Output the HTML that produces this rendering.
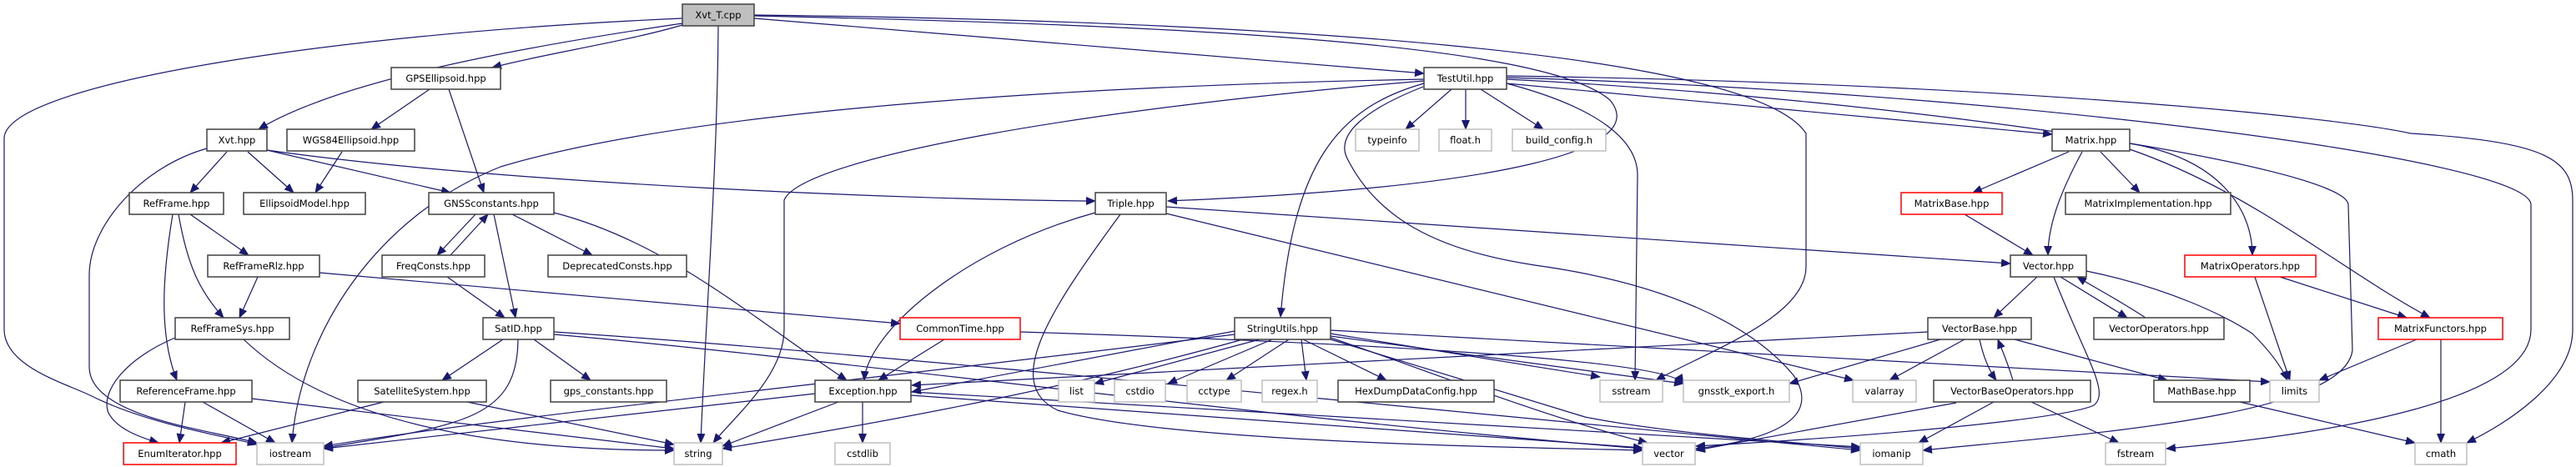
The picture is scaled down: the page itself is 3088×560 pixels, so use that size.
<!DOCTYPE html>
<html><head><meta charset="utf-8"><style>
html,body{margin:0;padding:0;background:#fff;}
svg{display:block;}
text{font-family:"DejaVu Sans","Liberation Sans",sans-serif;font-size:11.5px;fill:#000;}
.n{fill:#fff;stroke:#404040;stroke-width:1.5;}
.r{fill:#fff;stroke:#ff0000;stroke-width:1.5;}
.g{fill:#fff;stroke:#bfbfbf;stroke-width:1.5;}
.e{fill:none;stroke:#191970;stroke-width:1.2;}
</style></head><body>
<svg width="3088" height="560" viewBox="0 0 3088 560" xmlns="http://www.w3.org/2000/svg">
<defs><marker id="a" markerWidth="12" markerHeight="10" refX="11" refY="5" orient="auto" markerUnits="userSpaceOnUse"><path d="M0,0 L12,5 L0,10 z" fill="#191970"/></marker></defs>
<g class="e" marker-end="url(#a)">
<path d="M818,22 C400,40 10,100 5,165 L5,395 C5,440 80,460 110,475 C180,510 280,525 308,533"/>
<path d="M818,28 C600,60 400,100 310,155"/>
<path d="M818,30 C750,50 650,65 590,81"/>
<path d="M861,31 C860,200 845,400 840,531"/>
<path d="M904,22 L1707,88"/>
<path d="M904,19 C1400,30 1850,50 1930,120 C1980,180 1800,225 1400,241"/>
<path d="M904,18 C1500,25 2100,60 2165,160 L2165,320 C2165,380 2050,420 1985,456"/>
<path d="M1707,95 C1200,105 800,140 600,200 C450,260 360,400 350,531"/>
<path d="M1707,97 C1300,130 960,190 940,240 L940,395 C940,450 880,500 855,531"/>
<path d="M1707,100 C1600,130 1550,200 1535,380"/>
<path d="M1740,107 L1685,155"/>
<path d="M1757,107 L1757,155"/>
<path d="M1775,107 L1850,155"/>
<path d="M1806,100 C1920,130 1963,170 1963,210 L1960,456"/>
<path d="M1806,100 L2460,161"/>
<path d="M1806,95 C2300,120 2810,200 2815,245 L2820,420 C2810,500 2500,520 2305,540"/>
<path d="M1806,93 C2400,110 3030,190 3034,245 L3034,395 C3034,480 2800,520 2597,538"/>
<path d="M1806,91 C2400,100 2800,140 2890,160 C3050,170 3084,190 3084,240 L3084,395 C3084,460 3000,510 2957,531"/>
<path d="M1706,104 C1640,130 1600,160 1615,190 C1650,260 1720,300 1840,318 C2000,340 2100,390 2150,450 C2190,510 2100,530 2033,538"/>
<path d="M272,182 L228,231"/>
<path d="M297,182 L352,231"/>
<path d="M320,180 L540,231"/>
<path d="M320,180 C600,220 1100,240 1313,241"/>
<path d="M248,178 C170,200 107,270 107,330 L107,440 C107,500 250,515 308,531"/>
<path d="M515,107 L445,155"/>
<path d="M538,107 L580,231"/>
<path d="M410,182 L378,231"/>
<path d="M228,257 L298,306"/>
<path d="M214,257 C225,320 240,350 268,381"/>
<path d="M207,257 C195,330 190,400 212,456"/>
<path d="M309,332 L287,381"/>
<path d="M383,327 L1079,388"/>
<path d="M210,405 C150,430 120,470 130,495 C140,515 170,525 190,531"/>
<path d="M292,407 C400,510 600,540 808,540"/>
<path d="M222,482 L215,531"/>
<path d="M243,482 L330,531"/>
<path d="M302,478 L808,538"/>
<path d="M570,257 L524,306"/>
<path d="M614,257 L710,306"/>
<path d="M592,257 L618,381"/>
<path d="M664,255 C800,290 900,380 1015,456"/>
<path d="M540,306 L585,257"/>
<path d="M536,332 L605,381"/>
<path d="M603,407 L530,456"/>
<path d="M640,407 L708,456"/>
<path d="M621,407 C620,500 560,510 388,537"/>
<path d="M664,398 C1000,420 1500,470 2230,540"/>
<path d="M664,401 C1000,430 1500,500 1969,538"/>
<path d="M460,482 L265,531"/>
<path d="M560,482 L808,533"/>
<path d="M1132,407 L1053,456"/>
<path d="M1223,398 C1600,410 2000,430 2018,460"/>
<path d="M1313,255 C1150,300 1040,400 1036,456"/>
<path d="M1343,257 C1260,370 1200,460 1268,492 C1400,530 1800,536 1969,540"/>
<path d="M1398,256 L2222,456"/>
<path d="M1398,248 L2410,316"/>
<path d="M2480,182 L2365,231"/>
<path d="M2496,182 C2470,230 2455,270 2455,306"/>
<path d="M2518,182 L2565,231"/>
<path d="M2553,172 C2660,190 2700,250 2700,306"/>
<path d="M2553,179 C2700,230 2800,320 2913,381"/>
<path d="M2355,257 L2437,306"/>
<path d="M2442,332 L2390,381"/>
<path d="M2470,332 L2550,381"/>
<path d="M2462,332 C2500,430 2530,470 2510,486 C2480,500 2300,520 2033,535"/>
<path d="M2501,325 C2600,345 2670,380 2700,400 C2720,420 2735,440 2742,456"/>
<path d="M2572,381 C2540,360 2520,350 2490,332"/>
<path d="M2703,332 L2745,456"/>
<path d="M2733,332 L2885,381"/>
<path d="M2897,407 L2780,456"/>
<path d="M2926,407 L2926,531"/>
<path d="M2373,407 C2378,430 2385,445 2393,456"/>
<path d="M2326,407 L2145,460"/>
<path d="M2355,407 L2265,456"/>
<path d="M2415,407 L2598,456"/>
<path d="M2311,398 C1900,420 1500,440 1093,462"/>
<path d="M2413,456 C2405,430 2400,420 2395,407"/>
<path d="M2345,483 L2033,540"/>
<path d="M2390,482 L2300,531"/>
<path d="M2435,482 L2540,531"/>
<path d="M2685,482 L2895,531"/>
<path d="M1480,397 L1093,470"/>
<path d="M1490,407 C1300,460 1100,500 866,538"/>
<path d="M1510,407 L1312,460"/>
<path d="M1525,407 L1400,460"/>
<path d="M1545,407 L1470,456"/>
<path d="M1560,407 L1566,456"/>
<path d="M1562,407 L1662,456"/>
<path d="M1595,400 L1918,452"/>
<path d="M1595,403 L2018,460"/>
<path d="M1595,405 C1700,440 1850,500 1975,531"/>
<path d="M1595,407 C1700,440 1800,470 1900,500 C2000,520 2150,530 2230,538"/>
<path d="M1595,396 L2721,458"/>
<path d="M1480,401 C1000,460 600,500 388,535"/>
<path d="M977,472 L388,538"/>
<path d="M1005,482 L866,535"/>
<path d="M1034,482 L1034,531"/>
<path d="M1092,474 L1969,537"/>
<path d="M1092,470 L2230,536"/>
</g>
<g>
<rect x="818" y="5" width="86" height="26" fill="#bfbfbf" stroke="#404040" stroke-width="1.5"/><text x="861" y="22" text-anchor="middle">Xvt_T.cpp</text>
<rect class="n" x="469" y="81" width="131" height="26"/><text x="534.5" y="98" text-anchor="middle">GPSEllipsoid.hpp</text>
<rect class="n" x="1707" y="81" width="99" height="26"/><text x="1756.5" y="98" text-anchor="middle">TestUtil.hpp</text>
<rect class="n" x="248" y="155" width="72" height="26"/><text x="284" y="172" text-anchor="middle">Xvt.hpp</text>
<rect class="n" x="344" y="155" width="153" height="26"/><text x="420.5" y="172" text-anchor="middle">WGS84Ellipsoid.hpp</text>
<rect class="g" x="1625" y="155" width="76" height="26"/><text x="1663" y="172" text-anchor="middle">typeinfo</text>
<rect class="g" x="1725" y="155" width="63" height="26"/><text x="1756.5" y="172" text-anchor="middle">float.h</text>
<rect class="g" x="1813" y="155" width="112" height="26"/><text x="1869" y="172" text-anchor="middle">build_config.h</text>
<rect class="n" x="2460" y="155" width="93" height="26"/><text x="2506.5" y="172" text-anchor="middle">Matrix.hpp</text>
<rect class="n" x="155" y="231" width="113" height="26"/><text x="211.5" y="248" text-anchor="middle">RefFrame.hpp</text>
<rect class="n" x="292" y="231" width="146" height="26"/><text x="365" y="248" text-anchor="middle">EllipsoidModel.hpp</text>
<rect class="n" x="514" y="231" width="150" height="26"/><text x="589" y="248" text-anchor="middle">GNSSconstants.hpp</text>
<rect class="n" x="1313" y="231" width="85" height="26"/><text x="1355.5" y="248" text-anchor="middle">Triple.hpp</text>
<rect class="r" x="2279" y="231" width="121" height="26"/><text x="2339.5" y="248" text-anchor="middle">MatrixBase.hpp</text>
<rect class="n" x="2476" y="231" width="198" height="26"/><text x="2575" y="248" text-anchor="middle">MatrixImplementation.hpp</text>
<rect class="n" x="249" y="306" width="134" height="26"/><text x="316" y="323" text-anchor="middle">RefFrameRlz.hpp</text>
<rect class="n" x="458" y="306" width="123" height="26"/><text x="519.5" y="323" text-anchor="middle">FreqConsts.hpp</text>
<rect class="n" x="657" y="306" width="166" height="26"/><text x="740" y="323" text-anchor="middle">DeprecatedConsts.hpp</text>
<rect class="n" x="2410" y="306" width="91" height="26"/><text x="2455.5" y="323" text-anchor="middle">Vector.hpp</text>
<rect class="r" x="2619" y="306" width="157" height="26"/><text x="2697.5" y="323" text-anchor="middle">MatrixOperators.hpp</text>
<rect class="n" x="210" y="381" width="137" height="26"/><text x="278.5" y="398" text-anchor="middle">RefFrameSys.hpp</text>
<rect class="n" x="579" y="381" width="85" height="26"/><text x="621.5" y="398" text-anchor="middle">SatID.hpp</text>
<rect class="r" x="1079" y="381" width="144" height="26"/><text x="1151" y="398" text-anchor="middle">CommonTime.hpp</text>
<rect class="n" x="1480" y="381" width="115" height="26"/><text x="1537.5" y="398" text-anchor="middle">StringUtils.hpp</text>
<rect class="n" x="2311" y="381" width="124" height="26"/><text x="2373" y="398" text-anchor="middle">VectorBase.hpp</text>
<rect class="n" x="2510" y="381" width="156" height="26"/><text x="2588" y="398" text-anchor="middle">VectorOperators.hpp</text>
<rect class="r" x="2851" y="381" width="149" height="26"/><text x="2925.5" y="398" text-anchor="middle">MatrixFunctors.hpp</text>
<rect class="n" x="144" y="456" width="158" height="26"/><text x="223" y="473" text-anchor="middle">ReferenceFrame.hpp</text>
<rect class="n" x="429" y="456" width="154" height="26"/><text x="506" y="473" text-anchor="middle">SatelliteSystem.hpp</text>
<rect class="n" x="660" y="456" width="139" height="26"/><text x="729.5" y="473" text-anchor="middle">gps_constants.hpp</text>
<rect class="n" x="977" y="456" width="115" height="26"/><text x="1034.5" y="473" text-anchor="middle">Exception.hpp</text>
<rect class="g" x="1269" y="456" width="43" height="26"/><text x="1290.5" y="473" text-anchor="middle">list</text>
<rect class="g" x="1336" y="456" width="61" height="26"/><text x="1366.5" y="473" text-anchor="middle">cstdio</text>
<rect class="g" x="1423" y="456" width="65" height="26"/><text x="1455.5" y="473" text-anchor="middle">cctype</text>
<rect class="g" x="1513" y="456" width="66" height="26"/><text x="1546" y="473" text-anchor="middle">regex.h</text>
<rect class="n" x="1604" y="456" width="187" height="26"/><text x="1697.5" y="473" text-anchor="middle">HexDumpDataConfig.hpp</text>
<rect class="g" x="1918" y="456" width="75" height="26"/><text x="1955.5" y="473" text-anchor="middle">sstream</text>
<rect class="g" x="2018" y="456" width="127" height="26"/><text x="2081.5" y="473" text-anchor="middle">gnsstk_export.h</text>
<rect class="g" x="2221" y="456" width="76" height="26"/><text x="2259" y="473" text-anchor="middle">valarray</text>
<rect class="n" x="2318" y="456" width="188" height="26"/><text x="2412" y="473" text-anchor="middle">VectorBaseOperators.hpp</text>
<rect class="n" x="2582" y="456" width="115" height="26"/><text x="2639.5" y="473" text-anchor="middle">MathBase.hpp</text>
<rect class="g" x="2721" y="456" width="59" height="26"/><text x="2750.5" y="473" text-anchor="middle">limits</text>
<rect class="r" x="148" y="531" width="135" height="26"/><text x="215.5" y="548" text-anchor="middle">EnumIterator.hpp</text>
<rect class="g" x="308" y="531" width="80" height="26"/><text x="348" y="548" text-anchor="middle">iostream</text>
<rect class="g" x="808" y="531" width="58" height="26"/><text x="837" y="548" text-anchor="middle">string</text>
<rect class="g" x="1001" y="531" width="66" height="26"/><text x="1034" y="548" text-anchor="middle">cstdlib</text>
<rect class="g" x="1969" y="531" width="63" height="26"/><text x="2000.5" y="548" text-anchor="middle">vector</text>
<rect class="g" x="2230" y="531" width="75" height="26"/><text x="2267.5" y="548" text-anchor="middle">iomanip</text>
<rect class="g" x="2524" y="531" width="72" height="26"/><text x="2560" y="548" text-anchor="middle">fstream</text>
<rect class="g" x="2895" y="531" width="62" height="26"/><text x="2926" y="548" text-anchor="middle">cmath</text>
</g>
</svg>
</body></html>
